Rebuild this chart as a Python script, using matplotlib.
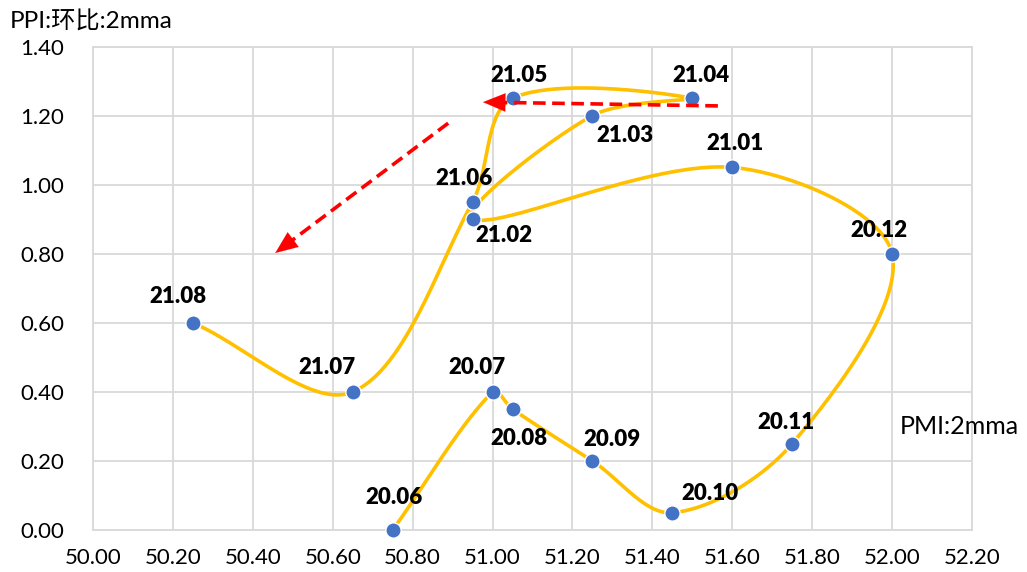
import numpy as np
import matplotlib
matplotlib.use("Agg")
import matplotlib.pyplot as plt
from matplotlib.patches import FancyArrowPatch

plt.rcParams['font.family'] = ['Lato', 'Noto Sans CJK SC', 'DejaVu Sans']

# PMI (x) vs PPI month-on-month (y), both 2-month moving averages
labels = ["20.06", "20.07", "20.08", "20.09", "20.10", "20.11", "20.12",
          "21.01", "21.02", "21.03", "21.04", "21.05", "21.06", "21.07", "21.08"]
pmi = [50.75, 51.00, 51.05, 51.25, 51.45, 51.75, 52.00,
       51.60, 50.95, 51.25, 51.50, 51.05, 50.95, 50.65, 50.25]
ppi = [0.00, 0.40, 0.35, 0.20, 0.05, 0.25, 0.80,
       1.05, 0.90, 1.20, 1.25, 1.25, 0.95, 0.40, 0.60]

# label offsets in pixels
offs = [(1, 33), (-16, 24), (6, -29), (20, 21), (38, 19), (-6, 21), (-13, 23),
        (3, 24), (31, -16), (33, -20), (9, 23), (6, 23), (-9, 23), (-26, 24), (-15, 26)]

# trend arrows (start, end)
arrows = [((51.564, 1.228), (50.976, 1.239)),
          ((50.889, 1.178), (50.456, 0.802))]

fig = plt.figure(figsize=(10.27, 5.72), dpi=100)
ax = fig.add_axes([0.0906, 0.0734, 0.8558, 0.8453])
ax.set_xlim(50.0, 52.2)
ax.set_ylim(0.0, 1.4)
ax.set_xticks(np.arange(50.0, 52.21, 0.2))
ax.set_yticks(np.arange(0.0, 1.41, 0.2))
ax.xaxis.set_major_formatter(matplotlib.ticker.FormatStrFormatter('%.2f'))
ax.yaxis.set_major_formatter(matplotlib.ticker.FormatStrFormatter('%.2f'))
ax.tick_params(length=0, labelsize=16, colors='black')
ax.tick_params(axis='x', pad=13)
ax.tick_params(axis='y', pad=21)
ax.grid(True, color='#D9D9D9', linewidth=1.3)
ax.set_axisbelow(True)
for s in ax.spines.values():
    s.set_color('#D9D9D9')
    s.set_linewidth(1.3)

# smoothed line: bezier segments in screen space, tangents weighted by chord length
fig.canvas.draw()
pts = ax.transData.transform(np.column_stack([pmi, ppi]))
n = len(pts)
seglen = np.hypot(*np.diff(pts, axis=0).T)
curve = []
t = np.linspace(0, 1, 50)[:, None]
for i in range(n - 1):
    p0 = pts[i]
    p3 = pts[i + 1]
    pm = pts[i - 1] if i > 0 else pts[i]
    pp = pts[i + 2] if i + 2 < n else pts[i + 1]
    lprev = seglen[i - 1] if i > 0 else 0.0
    lnext = seglen[i + 1] if i + 2 < n else 0.0
    L = seglen[i]
    c1 = p0 + (p3 - pm) * L / (lprev + L) / 3.0
    c2 = p3 - (pp - p0) * L / (lnext + L) / 3.0
    seg = ((1 - t) ** 3) * p0 + 3 * ((1 - t) ** 2) * t * c1 + 3 * (1 - t) * t ** 2 * c2 + t ** 3 * p3
    curve.append(seg)
curve = ax.transData.inverted().transform(np.vstack(curve))
ax.plot(curve[:, 0], curve[:, 1], color='#FFC000', linewidth=2.6, solid_capstyle='round', zorder=3)
ax.plot(pmi, ppi, 'o', color='#4472C4', markersize=11, markeredgecolor='white',
        markeredgewidth=1.0, zorder=4, clip_on=False)

for lab, x, y, (dx, dy) in zip(labels, pmi, ppi, offs):
    ax.annotate(lab, (x, y), xytext=(dx, dy), textcoords='offset pixels',
                ha='center', va='center', fontsize=16, fontweight='heavy', zorder=5)

# dashed red arrows
for (x0, y0), (x1, y1) in arrows:
    a = ax.transData.transform((x0, y0))
    b = ax.transData.transform((x1, y1))
    d = (b - a) / np.hypot(*(b - a))
    mid = ax.transData.inverted().transform(b - d * 12)
    ax.plot([x0, mid[0]], [y0, mid[1]], color='#FF0000', linewidth=2.6,
            linestyle=(0, (3.5, 1.8)), zorder=6)
    back = ax.transData.inverted().transform(b - d * 16)
    ax.add_patch(FancyArrowPatch(back, (x1, y1), arrowstyle='-|>,head_length=0.8,head_width=0.33',
                                 mutation_scale=20, color='#FF0000', linewidth=0.1,
                                 shrinkA=0, shrinkB=0, zorder=6))

ax.text(52.02, 0.30, "PMI:2mma", fontsize=18, ha='left', va='center')
fig.text(10 / 1027, 1 - 22 / 572, "PPI:环比:2mma", fontsize=17.5, ha='left', va='center')

fig.savefig("out.png", dpi=100)
